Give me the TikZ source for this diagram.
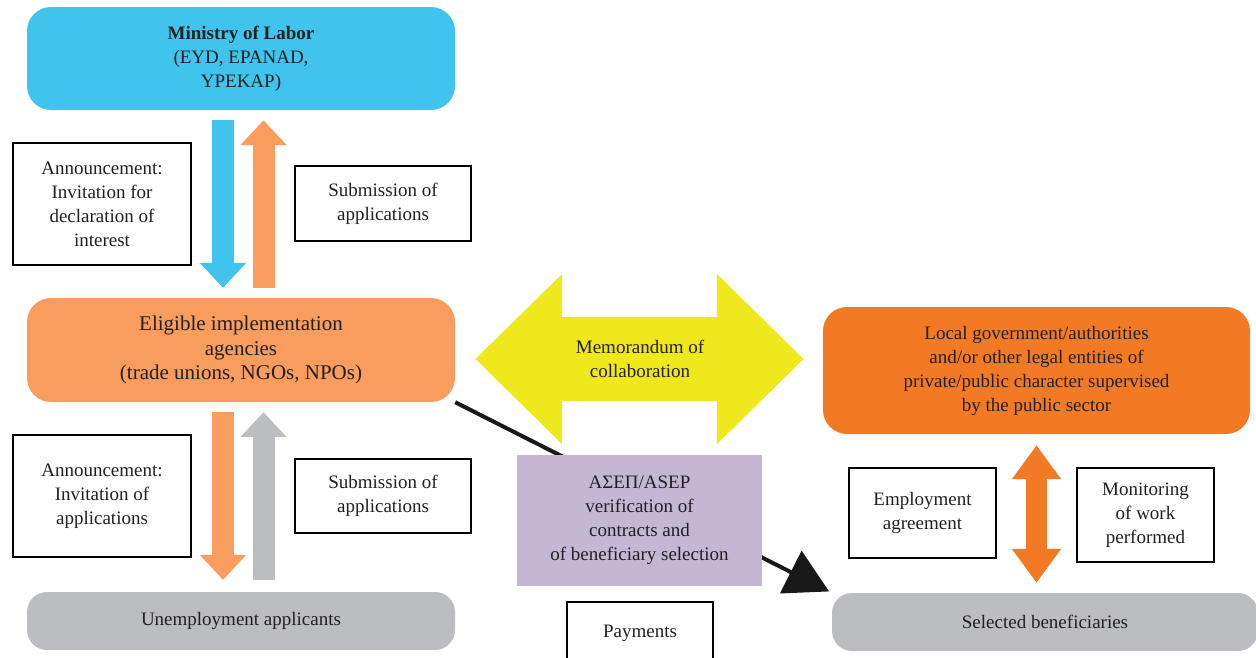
\documentclass[tikz,border=0pt]{standalone}
\usepackage{fontspec}
\setmainfont{Liberation Serif}
\definecolor{labBlue}{HTML}{40C4EE}
\definecolor{agencyOrange}{HTML}{F89D5E}
\definecolor{localOrange}{HTML}{F37A25}
\definecolor{applGray}{HTML}{BCBDC0}
\definecolor{memoYellow}{HTML}{EEE81C}
\definecolor{asepPurple}{HTML}{C4B7D4}
\definecolor{inkGray}{HTML}{231F20}
\usetikzlibrary{arrows.meta,backgrounds}

\begin{document}
\begin{tikzpicture}[x=1pt, y=-1pt,
                font=\fontsize{19}{24}\selectfont, text=inkGray,
                unitbox/.style={rounded corners=24pt, align=center, inner sep=0pt},
                notebox/.style={draw=black, line width=2pt, fill=white, align=center, inner sep=0pt},
                fatarrow/.style={line width=22pt, -{Triangle[width=45pt,length=25pt]}},
                linkarrow/.style={line width=4pt, draw=black!90, -{Triangle[width=47pt,length=43pt]}}
            ]
                \useasboundingbox (0,0) rectangle (1256,657);
                \clip (0,0) rectangle (1256,657);

                % Main actors
                \node[unitbox, fill=labBlue, minimum width=428pt, minimum height=103pt] (ministry) at (241,58.5)
                    {\textbf{Ministry of Labor}\\(EYD, EPANAD,\\YPEKAP)};
                \node[unitbox, fill=agencyOrange, minimum width=428pt, minimum height=104pt,
                      font=\fontsize{21}{24.5}\selectfont] (agencies) at (241,350)
                    {Eligible implementation\\agencies\\(trade unions, NGOs, NPOs)};
                \node[unitbox, fill=applGray, rounded corners=20pt, minimum width=428pt, minimum height=58pt] (applicants) at (241,621)
                    {Unemployment applicants};
                \node[unitbox, fill=localOrange, minimum width=427pt, minimum height=127pt] (local) at (1036.5,370.5)
                    {Local government/authorities\\and/or other legal entities of\\private/public character supervised\\by the public sector};
                \node[unitbox, fill=applGray, rounded corners=20pt, minimum width=426pt, minimum height=58pt] (selected) at (1045,622)
                    {Selected beneficiaries};
                \node[fill=asepPurple, align=center, inner sep=0pt, minimum width=245pt, minimum height=131pt] (asep) at (639.5,520.5)
                    {ΑΣΕΠ/ASEP\\verification of\\contracts and\\of beneficiary selection};
                \node[align=center] (memo) at (640,359) {Memorandum of\\collaboration};

                % Labels beside the arrows
                \node[notebox, minimum width=178pt, minimum height=122pt] (call1) at (102,204)
                    {Announcement:\\Invitation for\\declaration of\\interest};
                \node[notebox, minimum width=176pt, minimum height=75pt] (submit1) at (383,203.5)
                    {Submission of\\applications};
                \node[notebox, minimum width=178pt, minimum height=122pt] (call2) at (102,496)
                    {Announcement:\\Invitation of\\applications};
                \node[notebox, minimum width=176pt, minimum height=74pt] (submit2) at (383,496)
                    {Submission of\\applications};
                \node[notebox, minimum width=147pt, minimum height=90pt] (agreement) at (922.5,513)
                    {Employment\\agreement};
                \node[notebox, minimum width=137pt, minimum height=94pt] (monitor) at (1145.5,515)
                    {Monitoring\\of work\\performed};
                \node[notebox, minimum width=146pt, minimum height=62pt] (pay) at (640,633) {Payments};

                \begin{scope}[on background layer]
                    \draw[fatarrow, draw=labBlue, shorten <=10pt, shorten >=10pt]
                        ([xshift=-18pt]ministry.south) -- ([xshift=-18pt]agencies.north);
                    \draw[fatarrow, draw=agencyOrange, shorten <=10pt, shorten >=10pt]
                        ([xshift=22.5pt]agencies.north) -- ([xshift=22.5pt]ministry.south);
                    \draw[fatarrow, draw=agencyOrange, shorten <=10pt, shorten >=12pt]
                        ([xshift=-18pt]agencies.south) -- ([xshift=-18pt]applicants.north);
                    \draw[fatarrow, draw=applGray, shorten <=12pt, shorten >=10pt]
                        ([xshift=22.5pt]applicants.north) -- ([xshift=22.5pt]agencies.south);
                    % Memorandum between the two sides
                    \draw[line width=84pt, draw=memoYellow, shorten <=20pt, shorten >=19pt,
                          {Triangle[width=165pt,length=87pt]}-{Triangle[width=165pt,length=87pt]}]
                        (agencies.east |- memo) -- (local.west |- memo);
                    \draw[line width=21pt, draw=localOrange, shorten <=11pt, shorten >=10pt,
                          {Triangle[width=47pt,length=34pt]}-{Triangle[width=47pt,length=34pt]}]
                        (local.south) -- (local.south |- selected.north);
                    \draw[linkarrow, shorten >=3pt] (agencies.south east) -- (selected.north west);
                \end{scope}

            \end{tikzpicture}
\end{document}
